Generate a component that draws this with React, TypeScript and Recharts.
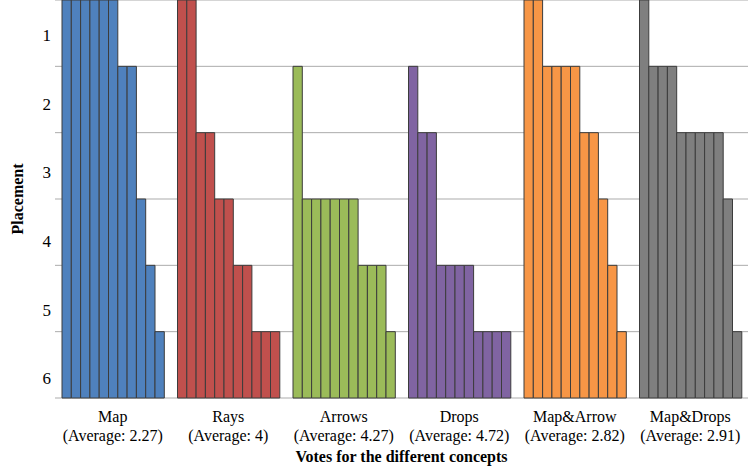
import { BarChart, Bar, Cell, XAxis, YAxis, CartesianGrid } from 'recharts';

const FONT = '"Liberation Serif", "Times New Roman", serif';
const COLORS = ['#4f81bd', '#c0504d', '#9bbb59', '#8064a2', '#f79646', '#7f7f7f'];
const GRID_COLOR = '#ababab';
const AXIS_COLOR = '#8c8c8c';

// concepts and the printed averages (taken from the labels)
const concepts = ['Map', 'Rays', 'Arrows', 'Drops', 'Map&Arrow', 'Map&Drops'];
const averageLabels = ['2.27', '4', '4.27', '4.72', '2.82', '2.91'];

// placement given by each of the 11 voters, sorted
const mapVotes = [1, 1, 1, 1, 1, 1, 2, 2, 4, 5, 6];
const raysVotes = [1, 1, 3, 3, 4, 4, 5, 5, 6, 6, 6];
const arrowsVotes = [2, 4, 4, 4, 4, 4, 4, 5, 5, 5, 6];
const dropsVotes = [2, 3, 3, 5, 5, 5, 5, 6, 6, 6, 6];
const mapArrowVotes = [1, 1, 2, 2, 2, 2, 3, 3, 4, 5, 6];
const mapDropsVotes = [1, 2, 2, 2, 3, 3, 3, 3, 3, 4, 6];

const placementTicks = [1, 2, 3, 4, 5, 6];
const levelTicks = [0, 1, 2, 3, 4, 5, 6];

const votesByConcept = [mapVotes, raysVotes, arrowsVotes, dropsVotes, mapArrowVotes, mapDropsVotes];
const voterKeys = mapVotes.map((_, j) => `v${j}`);

// bar height counts the levels from the bottom: placement 1 fills all 6 bands
const data = concepts.map((name, i) => {
  const row: Record<string, string | number> = { name, avg: averageLabels[i] };
  votesByConcept[i].forEach((p, j) => {
    row[`v${j}`] = 7 - p;
  });
  return row;
});

function ConceptTick({ x, y, payload, index }: any) {
  return (
    <text x={x} y={y} textAnchor="middle" fill="#000" fontFamily={FONT} fontSize={16}>
      <tspan x={x} dy={24}>{payload.value}</tspan>
      <tspan x={x} dy={19}>(Average: {averageLabels[index]})</tspan>
    </text>
  );
}

const noLabel = () => <g />;

export default function App() {
  return (
    <div style={{ position: 'absolute', left: 0, top: 0, background: '#fff' }}>
      <BarChart
        width={749}
        height={466}
        data={data}
        margin={{ top: 0, right: 1, bottom: 0, left: 0 }}
        barSize={9.3}
        barGap={0}
      >
        <CartesianGrid vertical={false} stroke={GRID_COLOR} />
        <XAxis
          xAxisId="sep"
          type="number"
          domain={[0, 6]}
          allowDataOverflow
          ticks={levelTicks}
          height={0}
          stroke={AXIS_COLOR}
          tickSize={5}
          tick={noLabel}
        />
        <XAxis
          dataKey="name"
          height={68}
          axisLine={false}
          tickLine={false}
          tickSize={0}
          tickMargin={0}
          interval={0}
          tick={<ConceptTick />}
          label={({ viewBox }: any) => (
            <text
              x={viewBox.x + viewBox.width / 2}
              y={viewBox.y + 64}
              textAnchor="middle"
              fontFamily={FONT}
              fontSize={16}
              fontWeight="bold"
              fill="#000"
            >
              Votes for the different concepts
            </text>
          )}
        />
        <YAxis
          domain={[0, 6]}
          ticks={levelTicks}
          width={0}
          axisLine={false}
          tickLine={false}
          tick={noLabel}
        />
        <YAxis
          yAxisId="place"
          type="number"
          domain={[0.49, 6.29]}
          allowDataOverflow
          reversed
          ticks={placementTicks}
          width={55}
          axisLine={false}
          tickLine={false}
          tickSize={0}
          tickMargin={4}
          tick={{ fill: '#000', fontFamily: FONT, fontSize: 17 }}
          label={({ viewBox }: any) => {
            const cx = 17;
            const cy = viewBox.y + viewBox.height / 2;
            return (
              <text
                x={cx}
                y={cy}
                transform={`rotate(-90 ${cx} ${cy})`}
                textAnchor="middle"
                dominantBaseline="central"
                fontFamily={FONT}
                fontSize={16}
                fontWeight="bold"
                fill="#000"
              >
                Placement
              </text>
            );
          }}
        />
        {voterKeys.map((key) => (
          <Bar key={key} dataKey={key} stroke="#3c3c3c" strokeWidth={1} isAnimationActive={false}>
            {data.map((_, i) => (
              <Cell key={i} fill={COLORS[i]} />
            ))}
          </Bar>
        ))}
      </BarChart>
    </div>
  );
}
